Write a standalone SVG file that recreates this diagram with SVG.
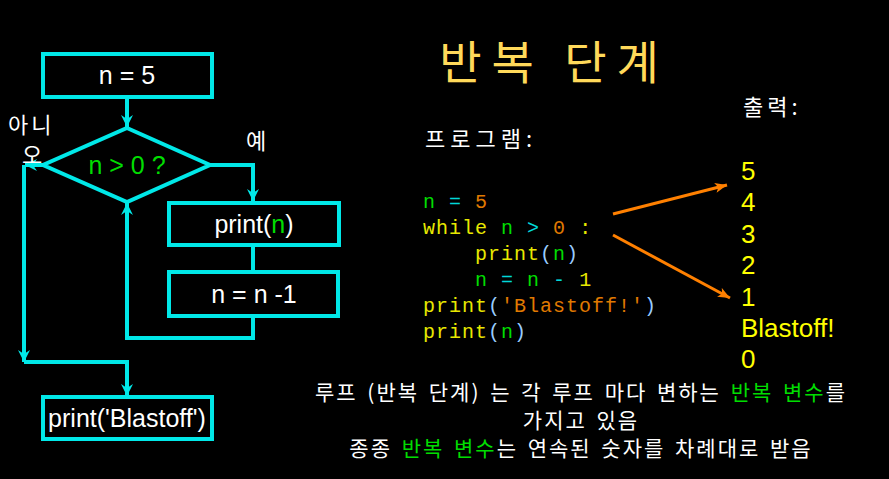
<svg xmlns="http://www.w3.org/2000/svg" width="889" height="479" viewBox="0 0 889 479">
<defs>
<style>
.box{fill:none;stroke:#00e8e8;stroke-width:4}
.ln{fill:none;stroke:#00e8e8;stroke-width:4}
.oa{fill:none;stroke:#ff8000;stroke-width:3}
.t{font-family:"Liberation Sans",Arial,sans-serif;font-size:25px;fill:#ffffff}
.k{font-family:"Noto Sans CJK KR","Noto Sans",sans-serif;fill:#ffffff}
.code{font-family:"Liberation Mono","Courier New",monospace;font-size:20px;letter-spacing:1px}
.out{font-family:"Liberation Sans",Arial,sans-serif;font-size:26px;fill:#ffff00}
.g{fill:#00dd00}.c{fill:#00d8d8}.o{fill:#e07a00}.y{fill:#e8e800}.b{fill:#99ccff}
</style>
<marker id="ca" viewBox="0 0 12 12" refX="12" refY="6" markerWidth="12" markerHeight="12" markerUnits="userSpaceOnUse" orient="auto">
<path d="M0,0 L12,6 L0,12 L4,6 z" fill="#00e8e8"/>
</marker>
<marker id="oa" viewBox="0 0 12 10" refX="12" refY="5" markerWidth="13" markerHeight="10" markerUnits="userSpaceOnUse" orient="auto">
<path d="M0,0 L12,5 L0,10 L3,5 z" fill="#ff8000"/>
</marker>
</defs>
<rect width="889" height="479" fill="#000000"/>

<g id="connectors">
<path class="ln" d="M127,97 L127,127" marker-end="url(#ca)"/>
<path class="ln" d="M210,165 L253,165 L253,201" marker-end="url(#ca)"/>
<path class="ln" d="M253,245 L253,272"/>
<path class="ln" d="M253,316 L253,338 L127,338 L127,203" marker-end="url(#ca)"/>
<path class="ln" d="M43,165 L25,165" marker-end="url(#ca)"/>
<path class="ln" d="M24,165 L24,362" marker-end="url(#ca)"/>
<path class="ln" d="M24,362 L127,362 L127,396" marker-end="url(#ca)"/>
<path class="oa" d="M613,214 L727,185" marker-end="url(#oa)"/>
<path class="oa" d="M613,235 L730,298" marker-end="url(#oa)"/>
</g>

<g id="n5">
<rect class="box" x="43" y="54" width="169" height="43"/>
<text class="t" x="127" y="84" text-anchor="middle">n = 5</text>
</g>
<g id="cond">
<polygon class="box" points="127,128 210,165 127,202 43,165"/>
<text class="t g" x="127" y="174" text-anchor="middle">n &gt; 0 ?</text>
</g>
<g id="printn">
<rect class="box" x="169" y="203" width="170" height="42"/>
<text class="t" x="254" y="233" text-anchor="middle">print(<tspan class="g">n</tspan>)</text>
</g>
<g id="dec">
<rect class="box" x="169" y="272" width="169" height="44"/>
<text class="t" x="254" y="303" text-anchor="middle">n = n -1</text>
</g>
<g id="blast">
<rect class="box" x="43" y="397" width="169" height="42"/>
<text class="t" x="127" y="427" text-anchor="middle">print('Blastoff')</text>
</g>
<g id="labels">
<text class="k" x="8" y="133" font-size="22" letter-spacing="3">아니</text>
<text class="k" x="22" y="163" font-size="22">오</text>
<text class="k" x="246" y="149" font-size="22">예</text>
</g>

<g id="title">
<text class="k" x="554" y="79" font-size="46" letter-spacing="10" style="fill:#ffd95a" text-anchor="middle">반복 단계</text>
</g>
<g id="program">
<text class="k" x="425" y="147" font-size="22" letter-spacing="5">프로그램:</text>
<g class="code" xml:space="preserve">
<text x="423" y="208"><tspan class="g">n</tspan> <tspan class="c">=</tspan> <tspan class="o">5</tspan></text>
<text x="423" y="234"><tspan class="y">while</tspan> <tspan class="g">n</tspan> <tspan class="c">&gt;</tspan> <tspan class="o">0</tspan> <tspan class="y">:</tspan></text>
<text x="475" y="260"><tspan class="y">print</tspan><tspan class="b">(</tspan><tspan class="g">n</tspan><tspan class="b">)</tspan></text>
<text x="475" y="286"><tspan class="g">n</tspan> <tspan class="c">=</tspan> <tspan class="g">n</tspan> <tspan class="c">-</tspan> <tspan class="y">1</tspan></text>
<text x="423" y="312"><tspan class="y">print</tspan><tspan class="b">(</tspan><tspan class="o">'Blastoff!'</tspan><tspan class="b">)</tspan></text>
<text x="423" y="338"><tspan class="y">print</tspan><tspan class="b">(</tspan><tspan class="g">n</tspan><tspan class="b">)</tspan></text>
</g>
</g>
<g id="output">
<text class="k" x="743" y="115" font-size="22" letter-spacing="4">출력:</text>
<text class="out" x="741" y="180">5</text>
<text class="out" x="741" y="211">4</text>
<text class="out" x="741" y="243">3</text>
<text class="out" x="741" y="274">2</text>
<text class="out" x="741" y="306">1</text>
<text class="out" x="741" y="337">Blastoff!</text>
<text class="out" x="741" y="368">0</text>
</g>
<g id="notes">
<text class="k" x="581" y="400" font-size="21" text-anchor="middle" letter-spacing="2" word-spacing="3">루프 (반복 단계) 는 각 루프 마다 변하는 <tspan class="g">반복 변수</tspan>를</text>
<text class="k" x="581" y="428" font-size="21" text-anchor="middle" letter-spacing="2" word-spacing="3">가지고 있음</text>
<text class="k" x="581" y="456" font-size="21" text-anchor="middle" letter-spacing="2" word-spacing="3">종종 <tspan class="g">반복 변수</tspan>는 연속된 숫자를 차례대로 받음</text>
</g>
</svg>
